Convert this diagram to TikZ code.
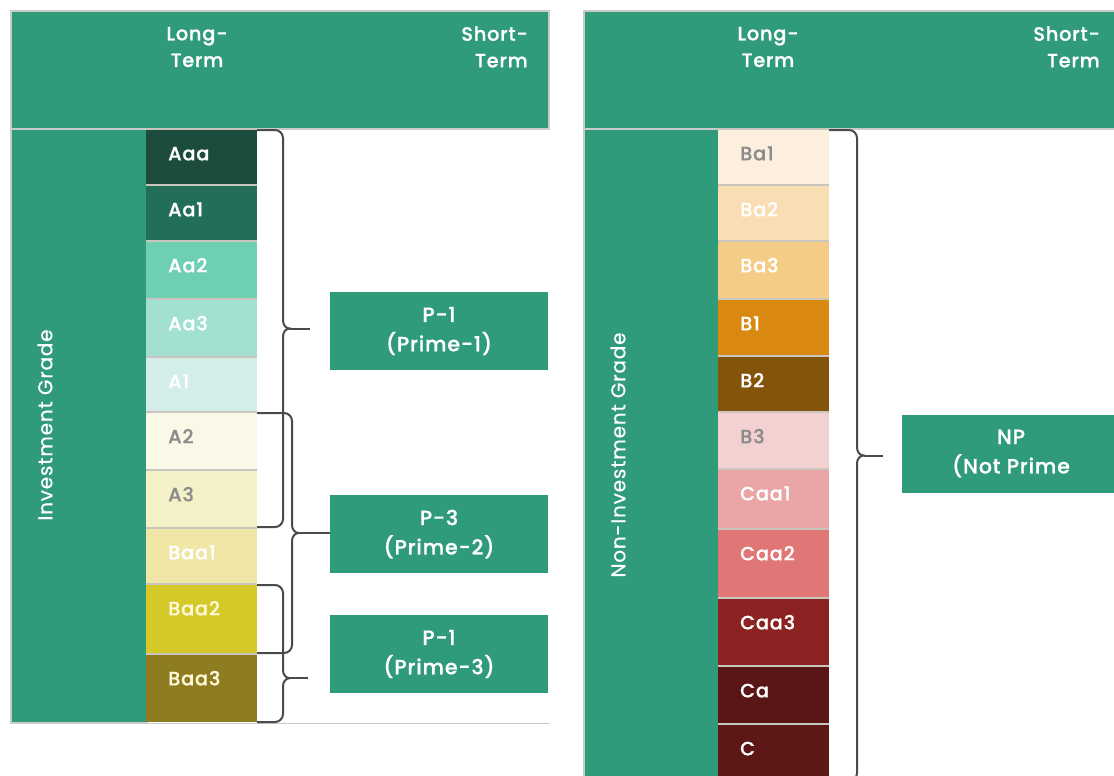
\documentclass[tikz,border=0pt]{standalone}
\usepackage{fontspec}
\setmainfont{Poppins}
\newfontfamily\medfont{Poppins Medium}[LetterSpace=4, FakeBold=0.8]
\newfontfamily\sidefont{Poppins}[LetterSpace=4, FakeBold=0.4]
\usepackage{tikz}
\usetikzlibrary{positioning,calc}
\definecolor{moodygreen}{HTML}{2F9B7B}
\definecolor{panelline}{HTML}{C9CCCB}
\definecolor{sepline}{HTML}{C8C6BE}
\definecolor{bracegray}{HTML}{4A4A4A}
\definecolor{gradegray}{HTML}{8C8C8C}
\definecolor{creamtxt}{HTML}{FFF8DA}
% investment grade
\definecolor{rAaa}{HTML}{1C4C3C}
\definecolor{rAaone}{HTML}{226E58}
\definecolor{rAatwo}{HTML}{6FCFB3}
\definecolor{rAathree}{HTML}{A2E1D1}
\definecolor{rAone}{HTML}{D3EEE8}
\definecolor{rAtwo}{HTML}{FAF8E6}
\definecolor{rAthree}{HTML}{F4F1C8}
\definecolor{rBaaone}{HTML}{F0E6A6}
\definecolor{rBaatwo}{HTML}{D5C92A}
\definecolor{rBaathree}{HTML}{8E7C20}
% non-investment grade
\definecolor{rBaone}{HTML}{FDEFDD}
\definecolor{rBatwo}{HTML}{F9DEB4}
\definecolor{rBathree}{HTML}{F5CC86}
\definecolor{rBone}{HTML}{DA8910}
\definecolor{rBtwo}{HTML}{85540B}
\definecolor{rBthree}{HTML}{F3D1D1}
\definecolor{rCaaone}{HTML}{EAA5A6}
\definecolor{rCaatwo}{HTML}{E07676}
\definecolor{rCaathree}{HTML}{8C2222}
\definecolor{rCa}{HTML}{5A1616}
\definecolor{rC}{HTML}{5C1716}

% curly bracket from a run of rating rows to a short-term box
\newcommand{\gradebrace}[5]{%
  \coordinate (bt) at (#1.north east);
  \coordinate (bb) at (#2.south east);
  \coordinate (bs) at (#3,0);
  \coordinate (bm) at ($(bt)!#5!(bb)$);
  \coordinate (st) at (bt -| bs);
  \coordinate (sm) at (bm -| bs);
  \coordinate (sb) at (bb -| bs);
  \draw[brc] (bt) -- ([xshift=-6pt]st) to[out=0,in=90] ([yshift=-6pt]st)
    -- ([yshift=6pt]sm) to[out=-90,in=180] ([xshift=5pt]sm)
    to[out=180,in=90] ([yshift=-6pt]sm) -- ([yshift=6pt]sb)
    to[out=-90,in=0] ([xshift=-6pt]sb) -- (bb);
  \draw[brc] ([xshift=5pt]sm) -- (sm -| #4);
}

\begin{document}
\begin{tikzpicture}[x=0.75pt, y=-0.75pt,
  panel/.style={draw=panelline, line width=1.2pt, fill=moodygreen, inner sep=0pt, anchor=north west},
  hdrtxt/.style={text=white, align=center, inner sep=0pt, font=\medfont\fontsize{14.5}{20}\selectfont},
  sidetxt/.style={text=white, rotate=90, inner sep=0pt, font=\sidefont\fontsize{15}{17}\selectfont},
  rating/.style={minimum width=83.25pt, minimum height=#1, text width=50pt, inner xsep=16.5pt, inner ysep=0pt,
    outer sep=0pt, text height=10.5pt, text depth=#1-35pt, align=left, anchor=north,
    font=\medfont\fontsize{14.5}{16}\selectfont},
  primebox/.style={fill=moodygreen, minimum width=163.5pt, minimum height=58.5pt, inner sep=0pt, text=white,
    align=center, font=\medfont\fontsize{15.5}{22}\selectfont},
  brc/.style={draw=bracegray, line width=1.5pt}
]
  \useasboundingbox (0,0) rectangle (1114,775);
  \fill[white] (0,0) rectangle (1114,775);
  \clip (0,0) rectangle (1114,775);

  % investment grade panel
  \node[panel, minimum width=403.5pt, minimum height=88.5pt] (lhead) at (10,10) {};
  \node[panel, minimum width=102pt, minimum height=445.5pt] (lcol) at (10,128) {};
  \draw[panelline, line width=1pt] (lcol.south west) -- (lhead.east |- lcol.south);
  \node[hdrtxt] (llong) at (197,47) {Long-\\Term};
  \node[hdrtxt, align=right, anchor=east] (lshort) at (528,47) {Short-\\Term};
  \node[sidetxt] (linv) at (45,425) {Investment Grade};
  \fill[sepline] (146,128) rectangle (257,722);

  \node[rating=40.5pt, fill=rAaa, text=white, anchor=north west] (aaa) at (146,130) {Aaa};
  \node[rating=40.5pt, fill=rAaone, text=white, below=1.5pt of aaa] (aa1) {Aa1};
  \node[rating=42pt, fill=rAatwo, text=white, below=1.5pt of aa1] (aa2) {Aa2};
  \node[rating=42pt, fill=rAathree, text=white, below=1.5pt of aa2] (aa3) {Aa3};
  \node[rating=39.75pt, fill=rAone, text=white, below=1.5pt of aa3] (a1) {A1};
  \node[rating=42pt, fill=rAtwo, text=gradegray, below=1.5pt of a1] (a2) {A2};
  \node[rating=42pt, fill=rAthree, text=gradegray, below=1.5pt of a2] (a3) {A3};
  \node[rating=40.5pt, fill=rBaaone, text=white, below=1.5pt of a3] (baa1) {Baa1};
  \node[rating=51pt, fill=rBaatwo, text=creamtxt, below=1.5pt of baa1] (baa2) {Baa2};
  \node[rating=50.25pt, fill=rBaathree, text=creamtxt, below=1.5pt of baa2] (baa3) {Baa3};

  \node[primebox] (pone) at (439,331) {P-1\\(Prime-1)};
  \node[primebox] (pthree) at (439,534) {P-3\\(Prime-2)};
  \node[primebox] (pprime) at (439,654) {P-1\\(Prime-3)};

  \coordinate (tone) at ([xshift=-15pt]pone.west);
  \coordinate (tprime) at ([xshift=-16.5pt]pprime.west);
  \gradebrace{aaa}{a3}{283}{tone}{0.5}
  \gradebrace{a2}{baa2}{292}{pthree.west}{0.5}
  \gradebrace{baa2}{baa3}{283}{tprime}{0.68}

  % non-investment grade panel
  \node[panel, minimum width=410pt, minimum height=88.5pt] (rhead) at (583,10) {};
  \node[panel, minimum width=101.25pt, minimum height=500pt] (rcol) at (583,128) {};
  \node[hdrtxt] (rlong) at (768,47) {Long-\\Term};
  \node[hdrtxt, align=right, anchor=east] (rshort) at (1100,47) {Short-\\Term};
  \node[sidetxt] (rnon) at (618,455) {Non-Investment Grade};
  \fill[sepline] (718,128) rectangle (829,781);

  \node[rating=40.5pt, fill=rBaone, text=gradegray, anchor=north west] (ba1) at (718,130) {Ba1};
  \node[rating=40.5pt, fill=rBatwo, text=white, below=1.5pt of ba1] (ba2) {Ba2};
  \node[rating=42pt, fill=rBathree, text=white, below=1.5pt of ba2] (ba3) {Ba3};
  \node[rating=41.25pt, fill=rBone, text=white, below=1.5pt of ba3] (b1) {B1};
  \node[rating=40.5pt, fill=rBtwo, text=white, below=1.5pt of b1] (b2) {B2};
  \node[rating=41.25pt, fill=rBthree, text=gradegray, below=1.5pt of b2] (b3) {B3};
  \node[rating=43.5pt, fill=rCaaone, text=white, below=1.5pt of b3] (caa1) {Caa1};
  \node[rating=50.25pt, fill=rCaatwo, text=white, below=1.5pt of caa1] (caa2) {Caa2};
  \node[rating=49.5pt, fill=rCaathree, text=white, below=1.5pt of caa2] (caa3) {Caa3};
  \node[rating=42pt, fill=rCa, text=white, below=1.5pt of caa3] (ca) {Ca};
  \node[rating=42pt, fill=rC, text=white, below=1.5pt of ca] (c) {C};

  \node[primebox] (np) at (1011,453.5) {NP\\(Not Prime};
  \coordinate (tnp) at ([xshift=-14.25pt]np.west);
  \gradebrace{ba1}{c}{857}{tnp}{0.5}
\end{tikzpicture}
\end{document}
